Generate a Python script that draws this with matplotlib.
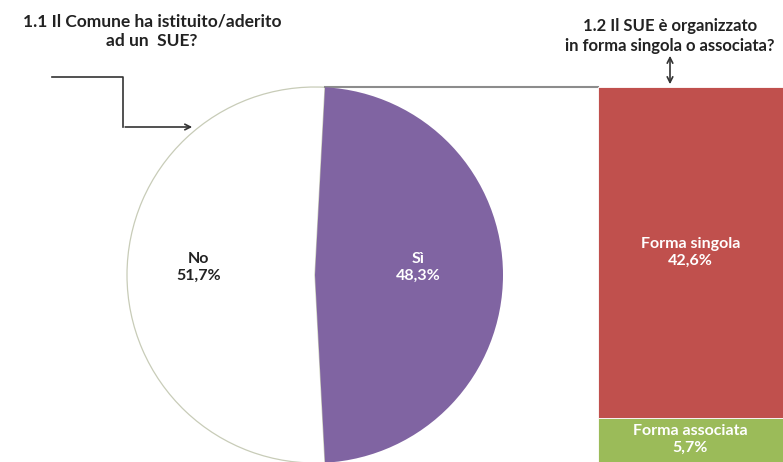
import matplotlib.pyplot as plt

# Data
pie_labels = ["Sì", "No"]
pie_values = [48.3, 51.7]
pie_colors = ["#8064A2", "#FFFFFF"]
bar_labels = ["Forma associata", "Forma singola"]
bar_values = [5.7, 42.6]
bar_colors = ["#9BBB59", "#C0504D"]

plt.rcParams["font.family"] = ["Lato", "DejaVu Sans"]

W, H = 783, 462
fig = plt.figure(figsize=(W / 100, H / 100), dpi=100)
ax = fig.add_axes([0, 0, 1, 1])

# Pie (pixel-like coords, y up)
cx, cy, r = 315, H - 275, 188
start = 180 * pie_values[0] / 100
wedges, _ = ax.pie(pie_values, colors=pie_colors, startangle=start, counterclock=False,
                   center=(cx, cy), radius=r, frame=True)
ax.set_xlim(0, W)
ax.set_ylim(0, H)
ax.set_aspect("equal")
ax.axis("off")
wedges[0].set_linewidth(0)
wedges[0].set_zorder(3)
wedges[1].set_edgecolor("#C8CCB8")
wedges[1].set_linewidth(0.9)

lab_kw = dict(ha="center", va="center", fontsize=11.5, fontweight="bold", linespacing=1.25, zorder=5)
ax.text(cx + 0.55 * r, cy + 0.04 * r, f"{pie_labels[0]}\n{pie_values[0]:.1f}%".replace(".", ","),
        color="white", **lab_kw)
ax.text(cx - 0.62 * r, cy + 0.04 * r, f"{pie_labels[1]}\n{pie_values[1]:.1f}%".replace(".", ","),
        color="#222222", **lab_kw)

# Stacked bar
bar_left, bar_top = 598, 87
bax = fig.add_axes([bar_left / W, 0, (W - bar_left) / W, (H - bar_top) / H])
bottom = 0
for lab, val, col in zip(bar_labels, bar_values, bar_colors):
    bax.bar(0, val, bottom=bottom, width=1, color=col, edgecolor="white", linewidth=0.6)
    bax.text(0.0, bottom + val / 2, f"{lab}\n{val:.1f}%".replace(".", ","), color="white", **lab_kw)
    bottom += val
bax.set_xlim(-0.5, 0.5)
bax.set_ylim(0, bottom)
bax.axis("off")

# Connector line from pie top to bar top
top_x = cx + r * 0.0527
ax.plot([top_x, bar_left], [H - bar_top, H - bar_top], color="#8c8c8c", lw=1.5)

# Left stepped arrow
ax.plot([52, 123, 123], [H - 77, H - 77, H - 127], color="#333333", lw=1.2)
ax.annotate("", xy=(195, H - 127), xytext=(122.4, H - 127),
            arrowprops=dict(arrowstyle="->", color="#333333", lw=1.2))

# Double arrow under right title
ax.annotate("", xy=(670, H - 53), xytext=(670, H - 87),
            arrowprops=dict(arrowstyle="<->", color="#333333", lw=1.2))

# Titles
ax.text(152, H - 31, "1.1 Il Comune ha istituito/aderito\nad un  SUE?", ha="center", va="center",
        fontsize=12.5, fontweight="bold", color="#222222", linespacing=1.25)
ax.text(670, H - 36, "1.2 Il SUE è organizzato\nin forma singola o associata?", ha="center", va="center",
        fontsize=12, fontweight="bold", color="#222222", linespacing=1.25)

fig.savefig("out.png", dpi=100)
